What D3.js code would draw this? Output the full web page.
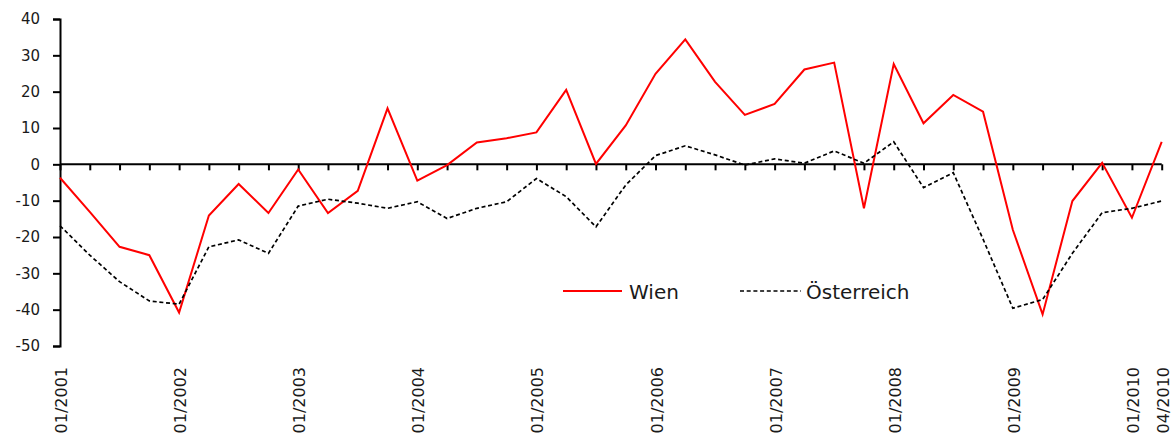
<!DOCTYPE html>
<html>
<head>
<meta charset="utf-8">
<script src="https://cdn.jsdelivr.net/npm/d3@7"></script>
<style>
  html, body { margin: 0; padding: 0; background: #fff; }
  svg { display: block; }
  text { font-family: "DejaVu Sans", sans-serif; fill: #1a1a1a; }
</style>
</head>
<body>
<svg id="chart" width="1173" height="435"></svg>
<script>
// Quarterly categories 01/2001 .. 04/2010
const quarters = [];
for (let y = 2001; y <= 2010; y++) {
  for (const m of ["01", "04", "07", "10"]) {
    if (y === 2010 && (m === "07" || m === "10")) continue;
    quarters.push(m + "/" + y);
  }
}
const shownLabels = ["01/2001","01/2002","01/2003","01/2004","01/2005","01/2006","01/2007","01/2008","01/2009","01/2010","04/2010"];
const yTicks = [40, 30, 20, 10, 0, -10, -20, -30, -40, -50];

const wien = [-3.7, -13.1, -22.7, -25.0, -40.8, -14.1, -5.4, -13.4, -1.4, -13.4,
              -7.3, 15.4, -4.5, -0.2, 6.0, 7.2, 8.8, 20.5, 0.1, 10.7,
              24.9, 34.4, 22.7, 13.6, 16.6, 26.1, 28.0, -12.1, 27.6, 11.3,
              19.1, 14.5, -18.0, -41.3, -10.1, 0.4, -14.7, 6.2];
const oesterreich = [-16.9, -25.0, -32.3, -37.6, -38.5, -22.7, -20.8, -24.5, -11.5, -9.6,
              -10.7, -12.1, -10.3, -14.9, -12.1, -10.3, -3.9, -8.9, -17.2, -5.7,
              2.4, 5.1, 2.6, -0.2, 1.5, 0.3, 3.7, 0.3, 6.2, -6.4,
              -2.3, -20.6, -39.6, -37.2, -24.5, -13.3, -12.1, -10.1];
const seriesNames = ["Wien", "Österreich"];

const svg = d3.select("#chart");
const x = d3.scalePoint().domain(quarters).range([60, 1161.7]).padding(0);
const y = d3.scaleLinear().domain([-50, 40]).range([346, 19]);

// Y axis
const yAxis = d3.axisLeft(y).tickValues(yTicks).tickSize(7).tickPadding(13).tickFormat(d3.format("d"));
const gy = svg.append("g").attr("transform", "translate(60,0)").call(yAxis);
gy.select(".domain").attr("stroke", "#000").attr("stroke-width", 2);
gy.selectAll(".tick line").attr("stroke", "#000").attr("stroke-width", 2);
gy.selectAll(".tick text").attr("font-size", 15).attr("fill", "#1a1a1a")
  .style("font-family", "'DejaVu Sans', sans-serif").text(d => d < 0 ? "-" + Math.abs(d) : d);

// X axis at zero
const xAxis = d3.axisBottom(x).tickSize(6).tickSizeOuter(0).tickFormat("");
const gx = svg.append("g").attr("transform", `translate(0,${y(0)})`).call(xAxis);
gx.select(".domain").attr("stroke", "#000").attr("stroke-width", 2)
  .attr("d", `M${x(quarters[0])},0H${x(quarters[quarters.length-1])}`);
gx.selectAll(".tick line").attr("stroke", "#000").attr("stroke-width", 2);

// X labels (rotated)
svg.append("g").selectAll("text").data(shownLabels).join("text")
  .attr("transform", d => `translate(${x(d) + 1.5},367) rotate(-90)`)
  .attr("text-anchor", "end")
  .attr("dominant-baseline", "central")
  .attr("font-size", 16)
  .text(d => d);

const line = d3.line().x((d, i) => x(quarters[i])).y(d => y(d));

svg.append("path").datum(wien)
  .attr("fill", "none").attr("stroke", "#ff0000").attr("stroke-width", 2)
  .attr("stroke-linejoin", "miter").attr("d", line);
svg.append("path").datum(oesterreich)
  .attr("fill", "none").attr("stroke", "#000").attr("stroke-width", 1.7)
  .attr("stroke-dasharray", "4,2.7").attr("d", line);

// Legend
const lg = svg.append("g");
lg.append("line").attr("x1", 563).attr("x2", 622).attr("y1", 291).attr("y2", 291)
  .attr("stroke", "#ff0000").attr("stroke-width", 2);
lg.append("text").attr("x", 629).attr("y", 298.5).attr("font-size", 20).text(seriesNames[0]);
lg.append("line").attr("x1", 740).attr("x2", 801).attr("y1", 291).attr("y2", 291)
  .attr("stroke", "#000").attr("stroke-width", 1.7).attr("stroke-dasharray", "4,2.7");
lg.append("text").attr("x", 806).attr("y", 298.5).attr("font-size", 20).text(seriesNames[1]);
</script>
</body>
</html>
